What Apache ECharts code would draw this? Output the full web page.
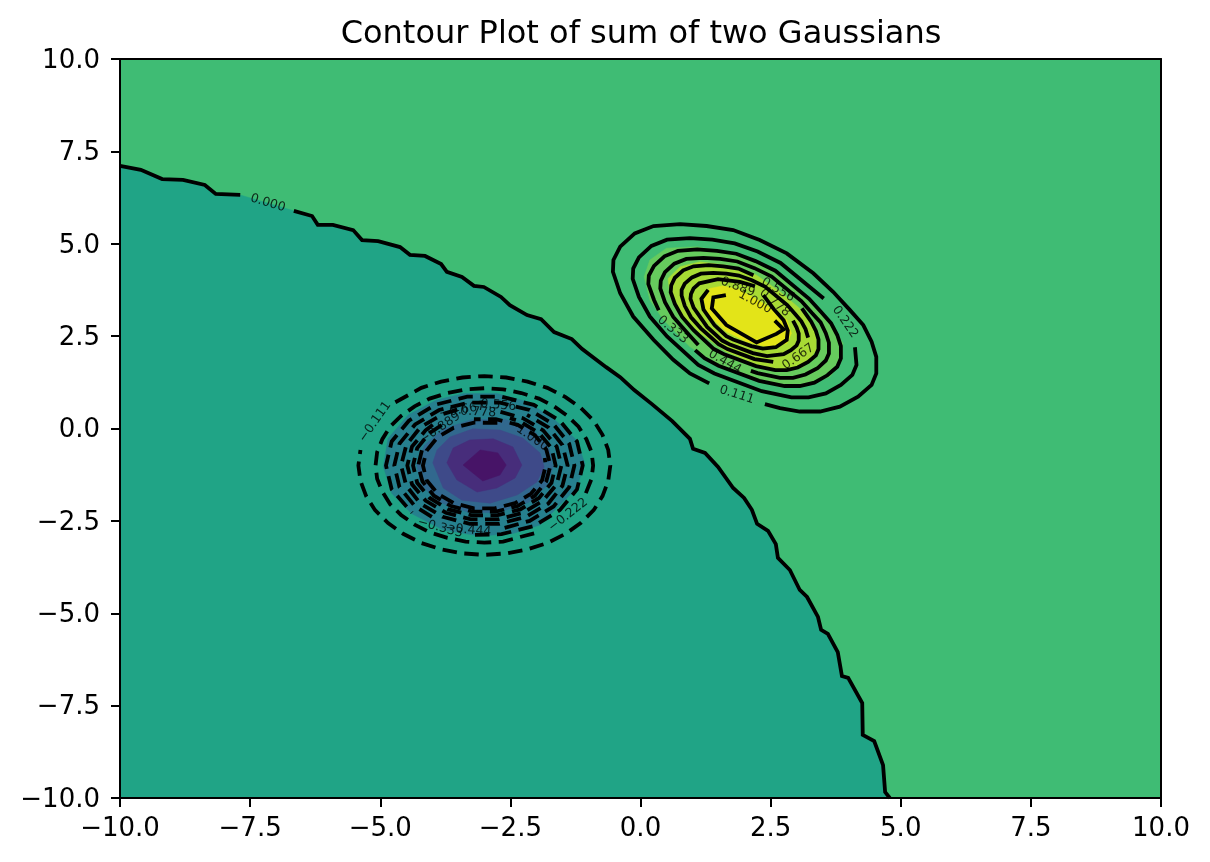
<!DOCTYPE html>
<html><head><meta charset="utf-8">
<style>html,body{margin:0;padding:0;background:#fff}#c{width:1210px;height:862px}</style>
<script src="https://cdn.jsdelivr.net/npm/echarts@6/dist/echarts.min.js"></script>
</head><body><div id="c"></div>
<script>
const tickValues=[-10,-7.5,-5,-2.5,0,2.5,5,7.5,10];
const zeroLineA=[[-10,7.11],[-9.6,7.0],[-9.19,6.75],[-8.79,6.73],[-8.37,6.59],[-8.16,6.35],[-7.69,6.32]];
const zeroLineB=[[-6.66,5.89],[-6.31,5.75],[-6.2,5.51],[-5.91,5.51],[-5.52,5.37],[-5.35,5.10],[-5.04,5.07],[-4.62,4.91],[-4.43,4.70],[-4.14,4.67],[-3.83,4.45],[-3.72,4.24],[-3.43,4.10],[-3.20,3.86],[-3.01,3.83],[-2.68,3.56],[-2.51,3.34],[-2.18,3.07],[-1.91,2.96],[-1.66,2.61],[-1.32,2.42],[-1.12,2.15],[-0.66,1.66],[-0.39,1.39],[-0.12,1.04],[0.22,0.66],[0.61,0.20],[0.95,-0.28],[1.01,-0.55],[1.24,-0.66],[1.49,-1.04],[1.78,-1.61],[1.99,-1.88],[2.14,-2.20],[2.24,-2.58],[2.45,-2.77],[2.60,-3.13],[2.64,-3.50],[2.87,-3.83],[3.06,-4.37],[3.20,-4.56],[3.41,-5.10],[3.47,-5.45],[3.60,-5.56],[3.79,-6.05],[3.87,-6.70],[3.99,-6.75],[4.26,-7.43],[4.27,-8.29],[4.49,-8.46],[4.66,-9.11],[4.70,-9.84],[4.79,-10]];
const lowerRegion=[[-10,-10]];
const upperLines=[
[[2.39,0.66],[2.68,0.55],[3.06,0.46],[3.45,0.46],[3.83,0.59],[4.18,0.86],[4.44,1.18],[4.53,1.49],[4.53,1.94],[4.44,2.35],[4.28,2.80],[4.02,3.21],[3.70,3.70],[3.32,4.20],[2.81,4.74],[2.29,5.10],[1.78,5.37],[1.27,5.48],[0.76,5.53],[0.25,5.48],[-0.11,5.28],[-0.39,4.92],[-0.52,4.56],[-0.53,4.24],[-0.39,3.66],[-0.14,3.03],[0.25,2.40],[0.63,1.86],[0.95,1.49],[1.32,1.22]],
[[4.12,2.20],[4.15,1.72],[4.07,1.45],[3.85,1.18],[3.56,0.95],[3.23,0.84],[2.90,0.84],[2.33,1.01],[1.42,1.49],[1.11,1.72],[0.51,2.49],[0.18,3.03],[-0.03,3.56],[-0.15,4.05],[-0.14,4.33],[-0.03,4.63],[0.21,4.94],[0.51,5.11],[0.95,5.15],[1.38,5.11],[1.81,5.01],[2.25,4.79],[2.69,4.48],[3.52,3.52]],
[[1.05,2.12],[1.23,1.90],[1.50,1.70],[2.28,1.29],[2.77,1.15],[3.06,1.15],[3.34,1.24],[3.59,1.44],[3.78,1.67],[3.85,1.90],[3.85,2.23],[3.78,2.53],[3.66,2.85],[3.47,3.15],[3.24,3.51],[2.59,4.27],[2.21,4.53],[1.84,4.73],[1.47,4.81],[1.09,4.85],[0.72,4.81],[0.46,4.66],[0.26,4.40],[0.16,4.14],[0.15,3.91],[0.26,3.48],[0.35,3.2]],
[[2.12,1.56],[2.25,1.50],[2.68,1.37],[2.93,1.37],[3.17,1.46],[3.40,1.63],[3.56,1.84],[3.62,2.03],[3.62,2.32],[3.56,2.58],[3.46,2.87],[3.29,3.13],[3.09,3.45],[2.52,4.11],[2.19,4.34],[1.86,4.52],[1.53,4.59],[1.21,4.62],[0.88,4.59],[0.65,4.46],[0.47,4.23],[0.39,4.00],[0.38,3.79],[0.47,3.42],[0.63,3.02],[0.88,2.62],[1.11,2.26]],
[[3.10,3.25],[3.28,2.89],[3.37,2.64],[3.42,2.41],[3.42,2.15],[3.37,1.98],[3.22,1.80],[3.02,1.65],[2.81,1.58],[2.59,1.58],[2.22,1.69],[1.62,2.00],[1.41,2.15],[1.02,2.66],[0.80,3.02],[0.66,3.37],[0.58,3.69],[0.59,3.87],[0.66,4.08],[0.82,4.28],[1.02,4.39],[1.31,4.42],[1.59,4.39],[1.88,4.33],[2.17,4.15]],
[[3.22,2.46],[3.17,2.69],[3.09,2.90],[2.97,3.10],[2.82,3.34],[2.39,3.84],[2.14,4.01],[1.89,4.14],[1.65,4.19],[1.40,4.21],[1.16,4.19],[0.99,4.09],[0.85,3.92],[0.79,3.75],[0.79,3.60],[0.85,3.32],[0.97,3.01],[1.16,2.71],[1.50,2.28],[1.67,2.15],[2.19,1.88],[2.55,1.80]],
[[2.93,2.92],[3.00,2.73],[3.04,2.57],[3.04,2.38],[3.00,2.25],[2.89,2.12],[2.75,2.01],[2.43,1.96],[2.16,2.04],[1.72,2.27],[1.57,2.38],[1.28,2.75],[1.02,3.27],[0.96,3.51],[0.97,3.64],[1.02,3.79],[1.13,3.93],[1.49,4.04],[1.91,3.97],[2.2,3.85]],
[[2.36,3.61],[2.56,3.23],[2.75,2.93],[2.83,2.65],[2.81,2.40],[2.60,2.20],[2.35,2.16],[2.13,2.23],[1.78,2.41],[1.65,2.50],[1.42,2.80],[1.21,3.22],[1.17,3.51],[1.30,3.75]],
[[1.64,3.61],[1.40,3.55],[1.37,3.25],[1.65,2.80],[2.23,2.33],[2.61,2.56],[2.75,2.68],[2.58,2.92]]
];
const lowerLines=[
[[-4.71,0.71],[-4.21,1.10],[-3.83,1.27],[-3.42,1.38],[-3,1.42],[-2.58,1.38],[-2.17,1.27],[-1.79,1.10],[-1.44,0.85],[-1.15,0.56],[-0.90,0.21],[-0.73,-0.17],[-0.62,-0.58],[-0.58,-1],[-0.62,-1.42],[-0.73,-1.83],[-0.90,-2.21],[-1.15,-2.56],[-1.44,-2.85],[-1.79,-3.10],[-2.17,-3.27],[-2.58,-3.38],[-3,-3.42],[-3.42,-3.38],[-3.83,-3.27],[-4.21,-3.10],[-4.56,-2.85],[-4.85,-2.56],[-5.10,-2.21],[-5.27,-1.83],[-5.38,-1.42],[-5.42,-1],[-5.38,-0.58]],
[[-1.05,-1.75],[-0.94,-1.36],[-0.91,-1],[-0.94,-0.64],[-1.04,-0.29],[-1.19,0.05],[-1.40,0.34],[-1.66,0.60],[-1.95,0.81],[-2.29,0.96],[-2.64,1.06],[-3,1.09],[-3.36,1.06],[-3.71,0.96],[-4.05,0.81],[-4.34,0.60],[-4.60,0.34],[-4.81,0.05],[-4.96,-0.29],[-5.06,-0.64],[-5.09,-1],[-5.06,-1.36],[-4.96,-1.71],[-4.81,-2.05],[-4.60,-2.34],[-4.34,-2.60],[-4.05,-2.81],[-3.71,-2.96],[-3.36,-3.06],[-3,-3.09],[-2.64,-3.06],[-1.92,-2.79]],
[[-3.18,-2.88],[-2.67,-2.86],[-2.05,-2.64],[-1.55,-2.21],[-1.22,-1.65],[-1.11,-1],[-1.22,-0.35],[-1.55,0.21],[-2.05,0.64],[-2.67,0.86],[-3.33,0.86],[-3.95,0.64],[-4.45,0.21],[-4.78,-0.35],[-4.89,-1],[-4.78,-1.65],[-4.39,-2.28]],
[[-2.61,-2.69],[-2.13,-2.50],[-1.67,-2.11],[-1.37,-1.59],[-1.27,-1],[-1.37,-0.41],[-1.67,0.11],[-2.13,0.50],[-2.70,0.70],[-3.30,0.70],[-3.87,0.50],[-4.33,0.11],[-4.63,-0.41],[-4.73,-1],[-4.63,-1.59],[-4.33,-2.11],[-3.94,-2.45]],
[[-3.52,0.51],[-3.80,0.39],[-4.23,0.03],[-4.50,-0.45],[-4.60,-1],[-4.50,-1.55],[-4.23,-2.03],[-3.80,-2.39],[-3.28,-2.58],[-2.72,-2.58],[-2.20,-2.39],[-1.77,-2.03],[-1.50,-1.55],[-1.40,-1],[-1.50,-0.45],[-1.77,0.03],[-2.18,0.37]],
[[-3.99,0.10],[-4.13,-0.05],[-4.39,-0.49],[-4.48,-1],[-4.39,-1.51],[-4.13,-1.95],[-3.74,-2.28],[-3.26,-2.46],[-2.74,-2.46],[-2.26,-2.28],[-1.87,-1.95],[-1.61,-1.51],[-1.52,-1],[-1.61,-0.49],[-1.87,-0.05],[-2.26,0.28],[-2.69,0.45]],
[[-3.82,0.09],[-4.05,-0.12],[-4.29,-0.53],[-4.37,-1],[-4.29,-1.47],[-4.05,-1.88],[-3.69,-2.19],[-3.24,-2.35],[-2.76,-2.35],[-2.31,-2.19],[-1.95,-1.88],[-1.71,-1.47],[-1.63,-1],[-1.71,-0.53],[-1.95,-0.12],[-2.31,0.19],[-2.51,0.28]],
[[-4.20,-0.59],[-4.27,-1],[-4.19,-1.43],[-3.97,-1.82],[-3.64,-2.10],[-3.22,-2.25],[-2.78,-2.25],[-2.36,-2.10],[-2.03,-1.82],[-1.81,-1.43],[-1.73,-1],[-1.81,-0.57],[-2.03,-0.18],[-2.36,0.10],[-2.78,0.25],[-3.20,0.25]],
[[-2.75,0.15],[-3.20,0.16],[-3.59,0.02],[-3.90,-0.24],[-4.11,-0.60],[-4.18,-1],[-4.11,-1.40],[-3.90,-1.76],[-3.59,-2.02],[-3.20,-2.16],[-2.80,-2.16],[-2.41,-2.02],[-2.10,-1.76],[-1.89,-1.40],[-1.82,-1],[-1.84,-0.80]]
];
const upperFill1=[[0.07,4.11],[0.18,4.56],[0.50,4.88],[1.08,4.92],[1.59,4.79],[2.10,4.56],[2.61,4.20],[3.13,3.57],[3.64,2.85],[3.89,2.31],[3.86,1.81],[3.64,1.40],[3.19,1.18],[2.68,1.13],[2.04,1.40],[1.46,1.76],[0.95,2.21],[0.44,2.94],[0.18,3.48]];
const upperFill2=[[0.53,4.06],[0.76,4.38],[1.14,4.51],[1.65,4.42],[2.23,4.15],[2.68,3.70],[3.06,3.25],[3.38,2.62],[3.38,2.12],[3.13,1.67],[2.68,1.58],[2.17,1.76],[1.65,2.08],[1.14,2.58],[0.76,3.12],[0.57,3.57]];
const upperFill3=[[1.21,3.52],[1.33,3.79],[1.59,3.86],[1.91,3.75],[2.36,3.39],[2.81,2.94],[2.90,2.58],[2.81,2.30],[2.42,2.21],[2.04,2.35],[1.65,2.62],[1.27,3.12]];
const lowerFill1=[[-4.94,-1.03],[-4.85,-0.27],[-4.46,0.37],[-3.92,0.77],[-3.40,0.95],[-2.76,0.95],[-2.19,0.73],[-1.68,0.28],[-1.23,-0.31],[-1.07,-0.94],[-1.23,-1.62],[-1.61,-2.16],[-1.93,-2.61],[-2.45,-2.84],[-3.08,-2.91],[-3.79,-2.75],[-4.40,-2.30],[-4.78,-1.75]];
const lowerFill2=[[-4.30,-1],[-4.15,-0.45],[-3.8,-0.02],[-3.25,0.24],[-2.6,0.25],[-2.05,-0.05],[-1.75,-0.55],[-1.68,-1.05],[-1.8,-1.55],[-2.15,-2.0],[-2.75,-2.28],[-3.3,-2.27],[-3.85,-2.0],[-4.2,-1.55]];
const lowerFill3=[[-3.99,-0.93],[-3.91,-0.58],[-3.66,-0.23],[-3.22,-0.01],[-2.70,-0.04],[-2.26,-0.26],[-1.93,-0.66],[-1.85,-1.04],[-1.99,-1.45],[-2.37,-1.80],[-2.89,-2.02],[-3.43,-1.94],[-3.79,-1.61]];
const lowerFill4=[[-3.72,-0.93],[-3.60,-0.53],[-3.28,-0.31],[-2.83,-0.28],[-2.45,-0.50],[-2.28,-0.99],[-2.41,-1.34],[-2.76,-1.61],[-3.14,-1.72],[-3.53,-1.39]];
const lowerFill5=[[-3.41,-0.99],[-3.08,-0.58],[-2.74,-0.66],[-2.58,-0.99],[-2.70,-1.26],[-3.03,-1.42]];
const labelTexts=['0.000','0.111','0.222','0.333','0.444','0.556','0.667','0.778','0.889','1.000','\u22120.111','\u22120.222','\u22120.333','\u22120.444','\u22120.556','\u22120.667','\u22120.778','\u22120.889','\u22121.000'];
const labelX=[-7.16,1.85,3.93,0.62,1.62,2.64,3.03,2.58,1.87,2.20,-5.10,-1.39,-3.85,-3.31,-2.83,-3.43,-3.22,-3.85,-2.16];
const labelY=[6.10,0.91,2.88,2.67,1.80,3.75,1.94,3.40,3.83,3.42,0.18,-2.34,-2.69,-2.75,0.64,0.50,0.45,0.01,-0.18];
const labelAngle=[-17,-18,-55,-40,-30,-30,35,-40,-20,-28,55,38,-15,-5,-5,10,-3,35,-35];

const FONT='"DejaVu Sans"';
function poly(points,color,z){
  return {type:'custom',coordinateSystem:'cartesian2d',silent:true,z:z,clip:true,data:points,
    renderItem:(p,api)=>{
      if(p.dataIndex!==0) return null;
      return {type:'polygon',shape:{points:points.map(q=>api.coord(q))},style:{fill:color,stroke:color,lineWidth:0.5}};
    }};
}
function line(points,dashed){
  return {type:'line',data:points,showSymbol:false,symbol:'none',silent:true,z:6,clip:true,animation:false,
    lineStyle:{color:'#000',width:3.8,type:dashed?[14.5,7.5]:'solid',join:'miter',cap:'butt'}};
}
const fmt=v=>(v<0?'\u2212':'')+Math.abs(v).toFixed(1);
const axisBase={min:-10,max:10,interval:2.5,splitLine:{show:false},
  axisLine:{show:true,onZero:false,lineStyle:{color:'#000',width:2}},
  axisTick:{show:true,length:9,inside:false,lineStyle:{color:'#000',width:2}},
  axisLabel:{color:'#000',fontFamily:FONT,fontSize:26,margin:18,formatter:fmt,showMinLabel:true,showMaxLabel:true},z:20};
const mirror={min:-10,max:10,interval:2.5,splitLine:{show:false},axisTick:{show:false},axisLabel:{show:false},
  axisLine:{show:true,onZero:false,lineStyle:{color:'#000',width:2}},z:20};
const series=[
  poly(lowerRegion.concat(zeroLineA,zeroLineB),'#20a486',2),
  poly(upperFill1,'#66cb5d',3),poly(upperFill2,'#a8db34',3.1),poly(upperFill3,'#e3e418',3.2),
  poly(lowerFill1,'#26808e',3),poly(lowerFill2,'#31688e',3.1),poly(lowerFill3,'#3e4a89',3.2),poly(lowerFill4,'#472d7b',3.3),poly(lowerFill5,'#471467',3.4),
  line(zeroLineA,false),line(zeroLineB,false)
];
upperLines.forEach(l=>series.push(line(l,false)));
lowerLines.forEach(l=>series.push(line(l,true)));
series.push({type:'scatter',symbolSize:0,silent:true,z:8,animation:false,
  data:labelTexts.map((t,i)=>({name:t,value:[labelX[i],labelY[i]],
    label:{show:true,position:'inside',formatter:t,rotate:labelAngle[i],color:'#000',fontFamily:FONT,fontSize:12.5}}))});
const chart=echarts.init(document.getElementById('c'),null,{renderer:'canvas'});
const yLabel=Object.assign({},axisBase.axisLabel,{margin:20,verticalAlign:'top',lineHeight:4});
chart.setOption({animation:false,backgroundColor:'#fff',
  title:{text:'Contour Plot of sum of two Gaussians',left:636,top:14,textAlign:'center',
    textStyle:{color:'#000',fontFamily:FONT,fontSize:32,fontWeight:'normal'}},
  grid:{left:120,top:59,width:1041,height:739,show:true,backgroundColor:'#3fbc74',borderWidth:0},
  xAxis:[Object.assign({type:'value',position:'bottom'},axisBase,{customValues:tickValues}),Object.assign({type:'value',position:'top'},mirror)],
  yAxis:[Object.assign({type:'value',position:'left'},axisBase,{customValues:tickValues,axisLabel:yLabel}),Object.assign({type:'value',position:'right'},mirror)],
  series:series});
</script></body></html>
